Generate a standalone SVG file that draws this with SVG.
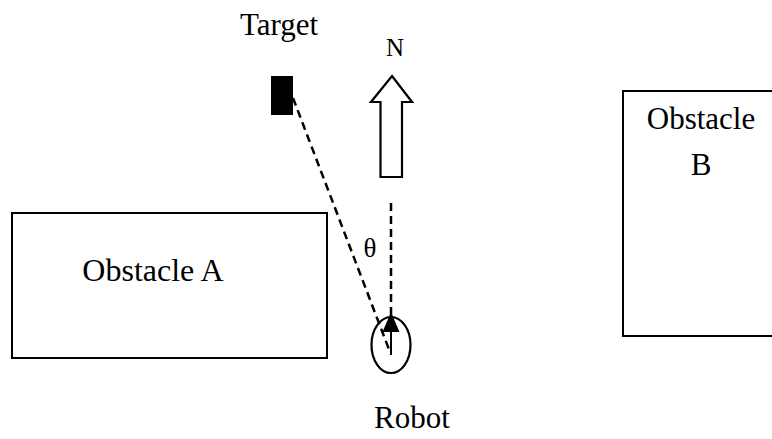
<svg xmlns="http://www.w3.org/2000/svg" width="772" height="439" viewBox="0 0 772 439">
<style>
.t{font-family:'Liberation Serif','Times New Roman','DejaVu Serif',serif;fill:#000;text-anchor:middle}
.box{fill:none;stroke:#000;stroke-width:2}
.dash{fill:none;stroke:#000;stroke-width:2.5;stroke-dasharray:8 5}
</style>
<rect width="772" height="439" fill="#fff"/>
<g id="obstacleA">
<rect class="box" x="12" y="213" width="315" height="145"/>
<text class="t" x="153" y="281" font-size="32">Obstacle A</text>
</g>
<g id="obstacleB">
<rect class="box" x="623" y="91" width="160" height="245"/>
<text class="t" x="701" y="129" font-size="31">Obstacle</text>
<text class="t" x="701" y="175" font-size="31">B</text>
</g>
<g id="target">
<rect x="271" y="76" width="22" height="39" fill="#000"/>
<text class="t" x="279" y="35" font-size="31">Target</text>
</g>
<g id="north">
<polygon points="392,76 412,102 402,102 402,177 380.5,177 380.5,102 371,102" fill="#fff" stroke="#000" stroke-width="2.2" stroke-linejoin="miter"/>
<text class="t" x="395" y="56" font-size="25">N</text>
</g>
<g id="robot">
<ellipse cx="391" cy="345" rx="19.5" ry="28" fill="none" stroke="#000" stroke-width="2.2"/>
<polygon points="391,312 399.5,332 382.5,332" fill="#000"/>
<line x1="391" y1="332" x2="391" y2="355" stroke="#000" stroke-width="2"/>
<text class="t" x="412" y="428" font-size="31">Robot</text>
</g>
<g id="connectors">
<line class="dash" x1="293" y1="98" x2="390" y2="352"/>
<line class="dash" x1="391" y1="203" x2="391" y2="316"/>
</g>
<g id="angle">
<text class="t" x="370" y="257" font-size="27">θ</text>
</g>
</svg>
